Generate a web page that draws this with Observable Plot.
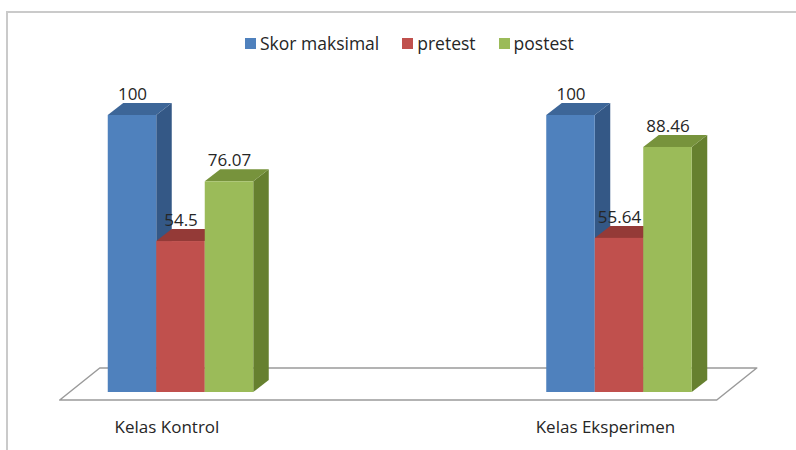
<!DOCTYPE html>
<html>
<head>
<meta charset="utf-8">
<script src="https://cdn.jsdelivr.net/npm/d3@7"></script>
<script src="https://cdn.jsdelivr.net/npm/@observablehq/plot@0.6"></script>
<style>
  html, body { margin: 0; padding: 0; background: #fff; }
  #wrap { position: relative; width: 796px; height: 450px; overflow: hidden; font-family: "Open Sans", "DejaVu Sans", sans-serif; }
  #frame { position: absolute; left: 6px; top: 11px; width: 900px; height: 600px; border-left: 2px solid #cacaca; border-top: 2px solid #cacaca; }
  #chart { position: absolute; left: 0; top: 0; }
  #legend { position: absolute; left: 245px; top: 31px; display: flex; align-items: center; font-size: 17.5px; color: #262626; white-space: nowrap; }
  #legend .item { display: flex; align-items: center; margin-right: 23px; }
  #legend .sw { width: 11px; height: 11px; margin-right: 4px; }
</style>
</head>
<body>
<div id="wrap">
  <div id="frame"></div>
  <div id="chart"></div>
  <div id="legend"></div>
</div>
<script>
// ---- data ----
const categories = ["Kelas Kontrol", "Kelas Eksperimen"];
const series = ["Skor maksimal", "pretest", "postest"];
const skorMaksimal = [100, 100];
const pretest = [54.5, 55.64];
const postest = [76.07, 88.46];

const frontColors = ["#4F81BD", "#C0504D", "#9BBB59"];
const topColors = ["#3D6698", "#943A37", "#77933C"];
const sideColors = ["#345886", "#833432", "#66802F"];

// ---- layout ----
const W = 796, H = 450;
const pxPerX = 438.5;           // pixels per category step
const pxPerY = 2.77;            // pixels per value unit
const xDomain = [-180.5 / pxPerX, (W - 180.5) / pxPerX];
const yMin = -(H - 392) / pxPerY;
const yDomain = [yMin, yMin + H / pxPerY];
const ux = px => px / pxPerX;   // pixel -> x units
const uy = px => px / pxPerY;   // pixel -> y units

const barW = ux(48.5);
const depthX = ux(15.5), depthY = uy(12);

const valuesBySeries = [skorMaksimal, pretest, postest];
const rows = [];
categories.forEach((c, i) => {
  series.forEach((s, j) => {
    const x1 = i + (j - 1.5) * barW;
    rows.push({cat: c, ci: i, s, j, value: valuesBySeries[j][i], x1, x2: x1 + barW});
  });
});

// side faces (parallelograms) as areas
const sidePts = rows.flatMap((r, k) => [
  {k, x: r.x2, y1: 0, y2: r.value, fill: sideColors[r.j]},
  {k, x: r.x2 + depthX, y1: depthY, y2: r.value + depthY, fill: sideColors[r.j]}
]);
// top faces
const topPts = rows.flatMap((r, k) => [
  {k, y: r.value, x1: r.x1, x2: r.x2, fill: topColors[r.j]},
  {k, y: r.value + depthY, x1: r.x1 + depthX, x2: r.x2 + depthX, fill: topColors[r.j]}
]);
// floor plane
const floorFrontY = -uy(8), floorBackY = uy(24);
const floorL = rows[0].x1 - ux(48), floorR = rows[rows.length - 1].x2 + ux(25);
const floorShift = ux(40);
const floorPts = [
  {y: floorFrontY, x1: floorL, x2: floorR},
  {y: floorBackY, x1: floorL + floorShift, x2: floorR + floorShift}
];

const chart = Plot.plot({
  width: W,
  height: H,
  margin: 0,
  x: {type: "linear", domain: xDomain, axis: null},
  y: {type: "linear", domain: yDomain, axis: null},
  color: {type: "identity"},
  style: {fontFamily: "'Open Sans', 'DejaVu Sans', sans-serif", background: "transparent"},
  marks: [
    Plot.areaX(floorPts, {y: "y", x1: "x1", x2: "x2", fill: "white", stroke: "#9a9a9a", strokeWidth: 1.5}),
    Plot.areaY(sidePts, {x: "x", y1: "y1", y2: "y2", z: "k", fill: "fill", curve: "linear"}),
    Plot.areaX(topPts, {y: "y", x1: "x1", x2: "x2", z: "k", fill: "fill", curve: "linear"}),
    Plot.rect(rows, {x1: "x1", x2: "x2", y1: 0, y2: "value", fill: d => frontColors[d.j], inset: 0}),
    Plot.text(rows, {x: d => (d.x1 + d.x2) / 2, y: "value", text: d => String(d.value), dy: -21, lineAnchor: "middle", fontSize: 17, fill: "#262626"}),
    Plot.text(categories, {x: (d, i) => i, frameAnchor: "bottom", text: d => d, dy: -23, dx: -14, lineAnchor: "middle", fontSize: 17, fill: "#262626"})
  ]
});
document.getElementById("chart").appendChild(chart);

// legend
const legend = document.getElementById("legend");
series.forEach((s, j) => {
  const item = document.createElement("div");
  item.className = "item";
  const sw = document.createElement("span");
  sw.className = "sw";
  sw.style.background = frontColors[j];
  const t = document.createElement("span");
  t.textContent = s;
  item.appendChild(sw);
  item.appendChild(t);
  legend.appendChild(item);
});
</script>
</body>
</html>
